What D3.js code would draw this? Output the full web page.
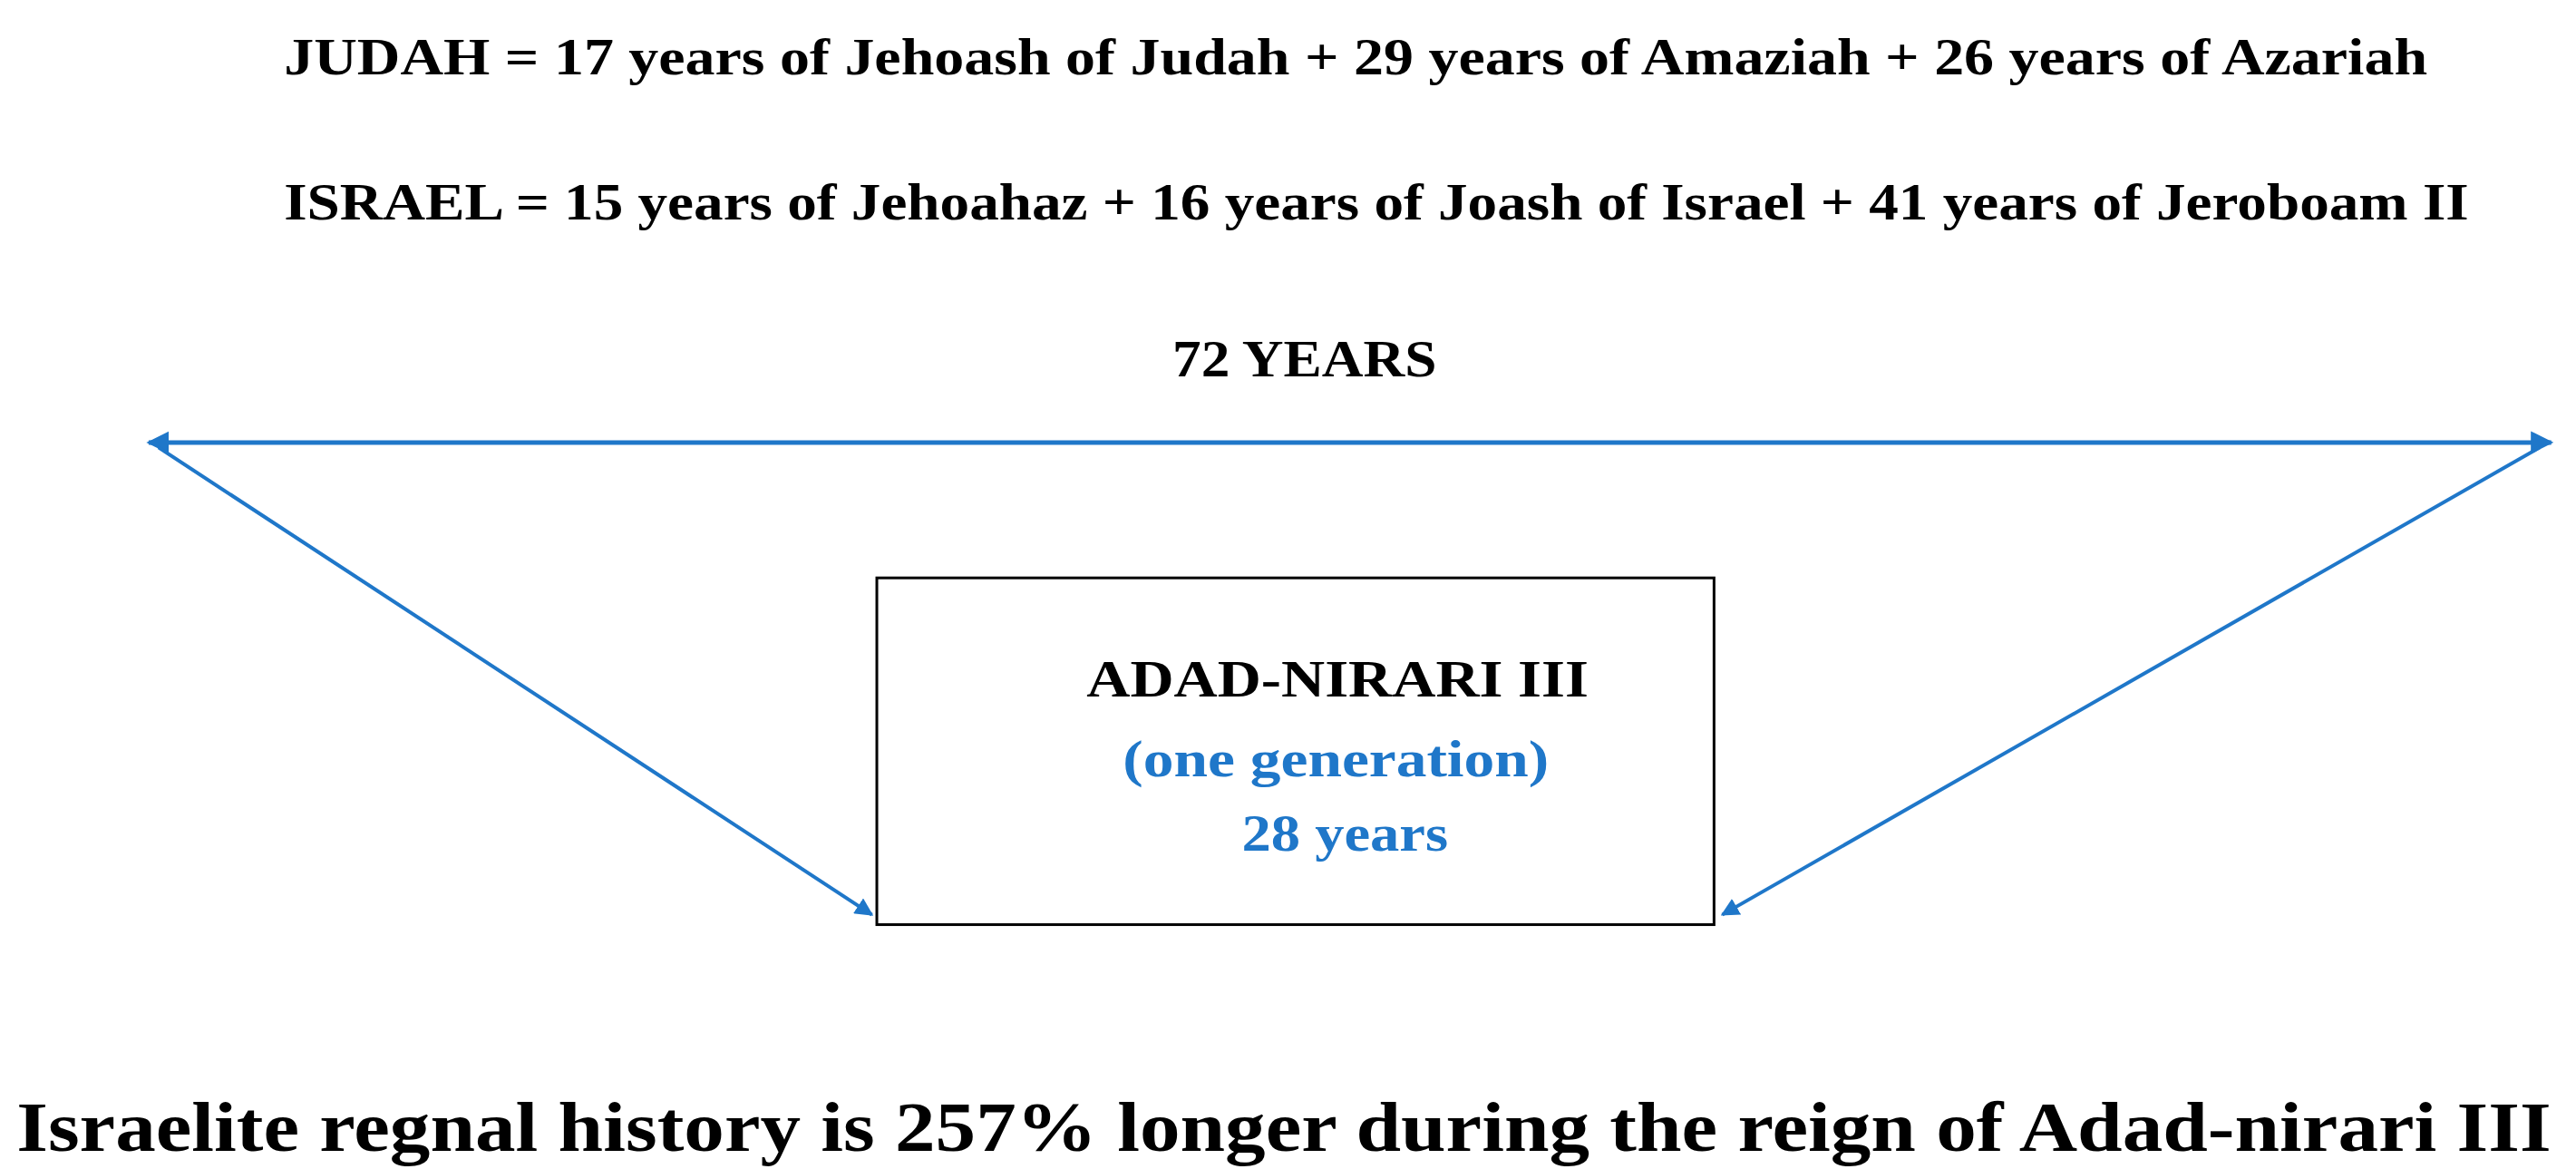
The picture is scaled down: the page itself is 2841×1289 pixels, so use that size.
<!DOCTYPE html>
<html>
<head>
<meta charset="utf-8">
<script src="https://cdn.jsdelivr.net/npm/d3@7"></script>
<style>
  body { margin: 0; background: #fff; }
  text { font-family: "Liberation Serif", "DejaVu Serif", serif; font-weight: bold; }
</style>
</head>
<body>
<svg id="chart" width="2841" height="1289"></svg>
<script>
// Reign data
var judahKings = ["Jehoash of Judah", "Amaziah", "Azariah"];
var judahYears = [17, 29, 26];
var israelKings = ["Jehoahaz", "Joash of Israel", "Jeroboam II"];
var israelYears = [15, 16, 41];
var assyrianKing = "ADAD-NIRARI III";
var assyrianYears = 28;
var summary = "Israelite regnal history is 257% longer during the reign of Adad-nirari III";

var blue = "#1f77c9";
var svg = d3.select("#chart");

// work in the reference's reduced coordinates, scaled to the page
var sx = d3.scaleLinear().domain([0, 1560]).range([0, 2841]);
var sy = d3.scaleLinear().domain([0, 708]).range([0, 1289]);

var defs = svg.append("defs");
defs.append("marker")
  .attr("id", "arrow")
  .attr("viewBox", "0 0 10 10")
  .attr("refX", 9).attr("refY", 5)
  .attr("markerWidth", 5).attr("markerHeight", 5)
  .attr("orient", "auto-start-reverse")
  .append("path").attr("d", "M0,0 L10,5 L0,10 Z").attr("fill", blue);

function line(part, values) {
  return part + " = " + values.map((v, i) => v.years + " years of " + v.king).join(" + ");
}
var judah = judahKings.map((k, i) => ({king: k, years: judahYears[i]}));
var israel = israelKings.map((k, i) => ({king: k, years: israelYears[i]}));
var total = d3.sum(judahYears);

function label(txt, x1, x2, y, size, color) {
  svg.append("text")
    .attr("x", sx(x1)).attr("y", sy(y))
    .attr("font-size", size)
    .attr("fill", color || "#000")
    .attr("textLength", sx(x2) - sx(x1))
    .attr("lengthAdjust", "spacingAndGlyphs")
    .text(txt);
}

label(line("JUDAH", judah), 172, 1470, 45, 56);
label(line("ISRAEL", israel), 172, 1495, 133, 56);
label(total + " YEARS", 710, 870, 228, 56);

// double-headed span arrow
svg.append("line")
  .attr("x1", sx(90)).attr("y1", sy(268)).attr("x2", sx(1545)).attr("y2", sy(268))
  .attr("stroke", blue).attr("stroke-width", 5)
  .attr("marker-start", "url(#arrow)").attr("marker-end", "url(#arrow)");

// diagonals to the box
svg.append("line")
  .attr("x1", sx(96)).attr("y1", sy(271)).attr("x2", sx(528)).attr("y2", sy(554))
  .attr("stroke", blue).attr("stroke-width", 4).attr("marker-end", "url(#arrow)");
svg.append("line")
  .attr("x1", sx(1538)).attr("y1", sy(271)).attr("x2", sx(1043)).attr("y2", sy(554))
  .attr("stroke", blue).attr("stroke-width", 4).attr("marker-end", "url(#arrow)");

// box
svg.append("rect")
  .attr("x", sx(531)).attr("y", sy(350))
  .attr("width", sx(1038) - sx(531)).attr("height", sy(560) - sy(350))
  .attr("fill", "none").attr("stroke", "#000").attr("stroke-width", 3);

label(assyrianKing, 658, 962, 422, 56);
label("(one generation)", 680, 938, 470, 56, blue);
label(assyrianYears + " years", 752, 877, 515, 56, blue);

label(summary, 10, 1545, 697, 78);
</script>
</body>
</html>
